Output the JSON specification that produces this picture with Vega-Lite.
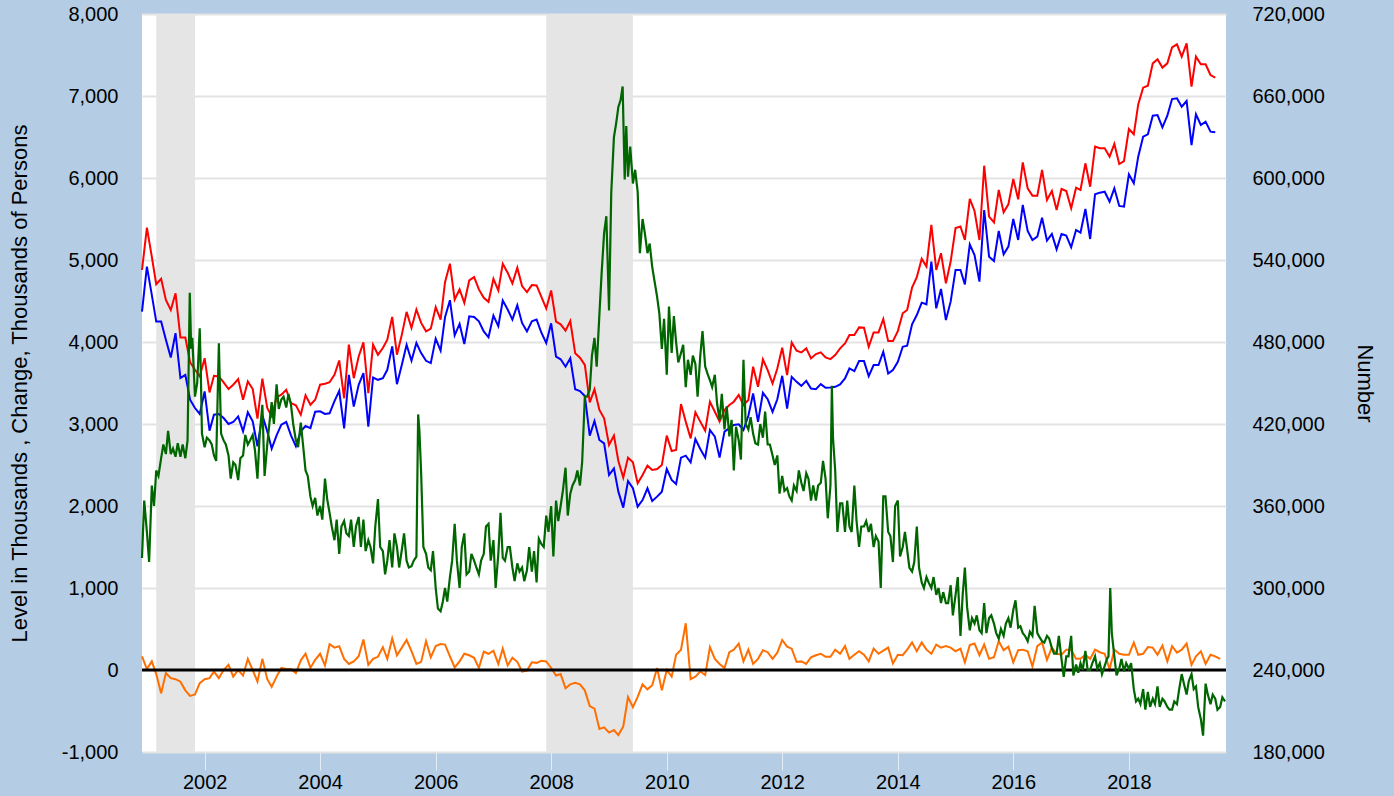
{
"$schema": "https://vega.github.io/schema/vega-lite/v6.json",
"width": 1084, "height": 738,
"autosize": {"type": "none"},
"padding": {"left": 142, "top": 14, "right": 168, "bottom": 44},
"background": "#b4cde4",
"config": {"view": {"fill": "#ffffff", "stroke": null}, "font": "Liberation Sans",
  "axis": {"labelFont": "Liberation Sans", "titleFont": "Liberation Sans", "labelColor": "#000000", "titleColor": "#000000", "titleFontWeight": "normal", "domain": false}},
"datasets": {
"m": [
{"d":"2000-12","r":4878,"b":4371,"o":167},
{"d":"2001-01","r":5394,"b":4919,"o":12},{"d":"2001-02","r":5040,"b":4574,"o":105},{"d":"2001-03","r":4704,"b":4249,"o":-50},{"d":"2001-04","r":4770,"b":4249,"o":-285},{"d":"2001-05","r":4513,"b":4026,"o":-37},{"d":"2001-06","r":4391,"b":3811,"o":-99},{"d":"2001-07","r":4594,"b":4107,"o":-112},{"d":"2001-08","r":4055,"b":3560,"o":-143},{"d":"2001-09","r":4055,"b":3600,"o":-248},{"d":"2001-10","r":3754,"b":3296,"o":-316},{"d":"2001-11","r":3661,"b":3195,"o":-298},{"d":"2001-12","r":3580,"b":3122,"o":-161},
{"d":"2002-01","r":3803,"b":3397,"o":-112},{"d":"2002-02","r":3385,"b":2919,"o":-99},{"d":"2002-03","r":3588,"b":3113,"o":-19},{"d":"2002-04","r":3580,"b":3122,"o":-99},{"d":"2002-05","r":3507,"b":3073,"o":0},{"d":"2002-06","r":3426,"b":3000,"o":62},{"d":"2002-07","r":3479,"b":3024,"o":-81},{"d":"2002-08","r":3548,"b":3093,"o":0},{"d":"2002-09","r":3296,"b":2910,"o":-68},{"d":"2002-10","r":3519,"b":3142,"o":136},{"d":"2002-11","r":3426,"b":3032,"o":0},{"d":"2002-12","r":3065,"b":2728,"o":-143},
{"d":"2003-01","r":3552,"b":3105,"o":136},{"d":"2003-02","r":3195,"b":2910,"o":-112},{"d":"2003-03","r":3093,"b":2700,"o":-205},{"d":"2003-04","r":3324,"b":2862,"o":-81},{"d":"2003-05","r":3357,"b":2992,"o":25},{"d":"2003-06","r":3418,"b":3024,"o":12},{"d":"2003-07","r":3255,"b":2862,"o":12},{"d":"2003-08","r":3227,"b":2728,"o":-37},{"d":"2003-09","r":3113,"b":2910,"o":118},{"d":"2003-10","r":3349,"b":2976,"o":198},{"d":"2003-11","r":3235,"b":2950,"o":25},{"d":"2003-12","r":3296,"b":3150,"o":124},
{"d":"2004-01","r":3479,"b":3154,"o":198},{"d":"2004-02","r":3491,"b":3122,"o":55},{"d":"2004-03","r":3510,"b":3130,"o":316},{"d":"2004-04","r":3600,"b":3280,"o":273},{"d":"2004-05","r":3775,"b":3404,"o":291},{"d":"2004-06","r":3314,"b":2947,"o":136},{"d":"2004-07","r":3967,"b":3600,"o":74},{"d":"2004-08","r":3559,"b":3212,"o":105},{"d":"2004-09","r":3824,"b":3477,"o":167},{"d":"2004-10","r":3996,"b":3620,"o":372},{"d":"2004-11","r":3375,"b":2967,"o":62},{"d":"2004-12","r":3967,"b":3567,"o":136},
{"d":"2005-01","r":3845,"b":3539,"o":161},{"d":"2005-02","r":3926,"b":3559,"o":279},{"d":"2005-03","r":4028,"b":3661,"o":136},{"d":"2005-04","r":4306,"b":3947,"o":384},{"d":"2005-05","r":3845,"b":3486,"o":180},{"d":"2005-06","r":4090,"b":3722,"o":273},{"d":"2005-07","r":4367,"b":3967,"o":366},{"d":"2005-08","r":4171,"b":3771,"o":229},{"d":"2005-09","r":4396,"b":3988,"o":74},{"d":"2005-10","r":4233,"b":3865,"o":99},{"d":"2005-11","r":4130,"b":3771,"o":353},{"d":"2005-12","r":4163,"b":3743,"o":155},
{"d":"2006-01","r":4424,"b":4041,"o":291},{"d":"2006-02","r":4273,"b":3894,"o":316},{"d":"2006-03","r":4730,"b":4302,"o":310},{"d":"2006-04","r":4955,"b":4510,"o":167},{"d":"2006-05","r":4518,"b":4082,"o":31},{"d":"2006-06","r":4641,"b":4220,"o":105},{"d":"2006-07","r":4477,"b":3975,"o":198},{"d":"2006-08","r":4751,"b":4314,"o":180},{"d":"2006-09","r":4792,"b":4306,"o":149},{"d":"2006-10","r":4641,"b":4253,"o":25},{"d":"2006-11","r":4539,"b":4130,"o":223},{"d":"2006-12","r":4490,"b":4057,"o":198},
{"d":"2007-01","r":4771,"b":4322,"o":236},{"d":"2007-02","r":4628,"b":4192,"o":74},{"d":"2007-03","r":4955,"b":4506,"o":260},{"d":"2007-04","r":4845,"b":4396,"o":56},{"d":"2007-05","r":4714,"b":4273,"o":149},{"d":"2007-06","r":4906,"b":4449,"o":100},{"d":"2007-07","r":4682,"b":4233,"o":-19},{"d":"2007-08","r":4608,"b":4130,"o":-6},{"d":"2007-09","r":4694,"b":4253,"o":93},{"d":"2007-10","r":4690,"b":4273,"o":87},{"d":"2007-11","r":4547,"b":4110,"o":112},{"d":"2007-12","r":4408,"b":3988,"o":105},
{"d":"2008-01","r":4628,"b":4228,"o":25},{"d":"2008-02","r":4248,"b":3821,"o":-68},{"d":"2008-03","r":4215,"b":3789,"o":-50},{"d":"2008-04","r":4138,"b":3699,"o":-223},{"d":"2008-05","r":4256,"b":3801,"o":-174},{"d":"2008-06","r":3862,"b":3423,"o":-155},{"d":"2008-07","r":3809,"b":3402,"o":-174},{"d":"2008-08","r":3720,"b":3341,"o":-248},{"d":"2008-09","r":3264,"b":2858,"o":-440},{"d":"2008-10","r":3423,"b":3037,"o":-471},{"d":"2008-11","r":3171,"b":2805,"o":-719},{"d":"2008-12","r":3069,"b":2764,"o":-700},
{"d":"2009-01","r":2744,"b":2378,"o":-763},{"d":"2009-02","r":2858,"b":2459,"o":-732},{"d":"2009-03","r":2549,"b":2175,"o":-794},{"d":"2009-04","r":2346,"b":1980,"o":-688},{"d":"2009-05","r":2590,"b":2305,"o":-329},{"d":"2009-06","r":2533,"b":2216,"o":-453},{"d":"2009-07","r":2276,"b":1992,"o":-329},{"d":"2009-08","r":2378,"b":2073,"o":-174},{"d":"2009-09","r":2492,"b":2216,"o":-236},{"d":"2009-10","r":2439,"b":2061,"o":-186},{"d":"2009-11","r":2451,"b":2114,"o":25},{"d":"2009-12","r":2500,"b":2175,"o":-248},
{"d":"2010-01","r":2858,"b":2451,"o":0},{"d":"2010-02","r":2671,"b":2317,"o":-81},{"d":"2010-03","r":2683,"b":2268,"o":186},{"d":"2010-04","r":3244,"b":2590,"o":248},{"d":"2010-05","r":3029,"b":2614,"o":570},{"d":"2010-06","r":2825,"b":2533,"o":-112},{"d":"2010-07","r":3142,"b":2817,"o":-81},{"d":"2010-08","r":3029,"b":2695,"o":-19},{"d":"2010-09","r":2919,"b":2590,"o":-62},{"d":"2010-10","r":3272,"b":2927,"o":279},{"d":"2010-11","r":3150,"b":2846,"o":136},{"d":"2010-12","r":3029,"b":2590,"o":74},
{"d":"2011-01","r":3171,"b":2907,"o":25},{"d":"2011-02","r":3232,"b":2950,"o":217},{"d":"2011-03","r":3272,"b":2988,"o":248},{"d":"2011-04","r":3354,"b":2996,"o":322},{"d":"2011-05","r":3232,"b":2927,"o":105},{"d":"2011-06","r":3293,"b":3100,"o":248},{"d":"2011-07","r":3698,"b":3372,"o":74},{"d":"2011-08","r":3453,"b":3025,"o":136},{"d":"2011-09","r":3787,"b":3380,"o":242},{"d":"2011-10","r":3657,"b":3302,"o":217},{"d":"2011-11","r":3494,"b":3148,"o":136},{"d":"2011-12","r":3677,"b":3302,"o":211},
{"d":"2012-01","r":3930,"b":3588,"o":366},{"d":"2012-02","r":3596,"b":3188,"o":285},{"d":"2012-03","r":3995,"b":3575,"o":260},{"d":"2012-04","r":3893,"b":3514,"o":99},{"d":"2012-05","r":3873,"b":3465,"o":105},{"d":"2012-06","r":3922,"b":3526,"o":74},{"d":"2012-07","r":3800,"b":3433,"o":155},{"d":"2012-08","r":3853,"b":3425,"o":180},{"d":"2012-09","r":3873,"b":3486,"o":198},{"d":"2012-10","r":3812,"b":3441,"o":161},{"d":"2012-11","r":3791,"b":3445,"o":161},{"d":"2012-12","r":3840,"b":3453,"o":248},
{"d":"2013-01","r":3922,"b":3482,"o":198},{"d":"2013-02","r":3983,"b":3555,"o":291},{"d":"2013-03","r":4085,"b":3677,"o":136},{"d":"2013-04","r":4085,"b":3645,"o":186},{"d":"2013-05","r":4178,"b":3767,"o":229},{"d":"2013-06","r":4174,"b":3767,"o":186},{"d":"2013-07","r":3942,"b":3584,"o":105},{"d":"2013-08","r":4117,"b":3718,"o":260},{"d":"2013-09","r":4117,"b":3718,"o":198},{"d":"2013-10","r":4280,"b":3881,"o":236},{"d":"2013-11","r":4011,"b":3616,"o":273},{"d":"2013-12","r":4011,"b":3657,"o":80},
{"d":"2014-01","r":4133,"b":3759,"o":186},{"d":"2014-02","r":4350,"b":3942,"o":180},{"d":"2014-03","r":4390,"b":3954,"o":248},{"d":"2014-04","r":4663,"b":4215,"o":335},{"d":"2014-05","r":4790,"b":4329,"o":229},{"d":"2014-06","r":5014,"b":4480,"o":335},{"d":"2014-07","r":4920,"b":4460,"o":248},{"d":"2014-08","r":5429,"b":4981,"o":198},{"d":"2014-09","r":4879,"b":4411,"o":310},{"d":"2014-10","r":5083,"b":4647,"o":273},{"d":"2014-11","r":4716,"b":4268,"o":291},{"d":"2014-12","r":4981,"b":4492,"o":273},
{"d":"2015-01","r":5389,"b":4879,"o":229},{"d":"2015-02","r":5409,"b":4879,"o":260},{"d":"2015-03","r":5244,"b":4703,"o":93},{"d":"2015-04","r":5744,"b":5191,"o":304},{"d":"2015-05","r":5598,"b":5061,"o":322},{"d":"2015-06","r":5244,"b":4736,"o":180},{"d":"2015-07","r":6150,"b":5610,"o":310},{"d":"2015-08","r":5528,"b":5041,"o":136},{"d":"2015-09","r":5459,"b":4988,"o":155},{"d":"2015-10","r":5854,"b":5354,"o":353},{"d":"2015-11","r":5581,"b":5069,"o":242},{"d":"2015-12","r":5679,"b":5163,"o":285},
{"d":"2016-01","r":5988,"b":5500,"o":93},{"d":"2016-02","r":5740,"b":5244,"o":242},{"d":"2016-03","r":6191,"b":5671,"o":248},{"d":"2016-04","r":5874,"b":5354,"o":229},{"d":"2016-05","r":5785,"b":5244,"o":43},{"d":"2016-06","r":5785,"b":5285,"o":291},{"d":"2016-07","r":6098,"b":5516,"o":335},{"d":"2016-08","r":5732,"b":5236,"o":124},{"d":"2016-09","r":5841,"b":5317,"o":273},{"d":"2016-10","r":5610,"b":5130,"o":198},{"d":"2016-11","r":5866,"b":5317,"o":186},{"d":"2016-12","r":5841,"b":5297,"o":248},
{"d":"2017-01","r":5630,"b":5155,"o":248},{"d":"2017-02","r":5882,"b":5366,"o":136},{"d":"2017-03","r":5854,"b":5333,"o":136},{"d":"2017-04","r":6179,"b":5622,"o":186},{"d":"2017-05","r":5894,"b":5256,"o":136},{"d":"2017-06","r":6382,"b":5801,"o":248},{"d":"2017-07","r":6362,"b":5821,"o":217},{"d":"2017-08","r":6362,"b":5833,"o":198},{"d":"2017-09","r":6260,"b":5711,"o":10},{"d":"2017-10","r":6415,"b":5874,"o":248},{"d":"2017-11","r":6171,"b":5659,"o":198},{"d":"2017-12","r":6207,"b":5650,"o":186},
{"d":"2018-01","r":6598,"b":6045,"o":186},{"d":"2018-02","r":6533,"b":5935,"o":335},{"d":"2018-03","r":6898,"b":6260,"o":186},{"d":"2018-04","r":7102,"b":6504,"o":198},{"d":"2018-05","r":7126,"b":6533,"o":279},{"d":"2018-06","r":7398,"b":6760,"o":273},{"d":"2018-07","r":7447,"b":6768,"o":186},{"d":"2018-08","r":7346,"b":6618,"o":298},{"d":"2018-09","r":7398,"b":6760,"o":105},{"d":"2018-10","r":7593,"b":6963,"o":291},{"d":"2018-11","r":7630,"b":6972,"o":211},{"d":"2018-12","r":7480,"b":6870,"o":248},
{"d":"2019-01","r":7642,"b":6939,"o":322},{"d":"2019-02","r":7114,"b":6402,"o":62},{"d":"2019-03","r":7480,"b":6776,"o":167},{"d":"2019-04","r":7386,"b":6646,"o":229},{"d":"2019-05","r":7386,"b":6687,"o":74},{"d":"2019-06","r":7256,"b":6565,"o":186},{"d":"2019-07","r":7224,"b":6557,"o":167},{"d":"2019-08","o":136}
],
"c": [
{"d":"2000-12-01","v":322000},{"d":"2000-12-15","v":364000},{"d":"2001-01-01","v":341000},{"d":"2001-01-15","v":319000},{"d":"2001-02-01","v":375000},{"d":"2001-02-15","v":360000},{"d":"2001-03-01","v":386000},{"d":"2001-03-15","v":382000},{"d":"2001-04-01","v":395000},{"d":"2001-04-15","v":405000},{"d":"2001-05-01","v":398000},{"d":"2001-05-15","v":415000},{"d":"2001-06-01","v":398000},{"d":"2001-06-15","v":402000},{"d":"2001-07-01","v":396000},{"d":"2001-07-15","v":406000},{"d":"2001-08-01","v":396000},{"d":"2001-08-15","v":405000},{"d":"2001-09-01","v":395000},{"d":"2001-09-15","v":408000},{"d":"2001-09-29","v":516000},{"d":"2001-10-08","v":475000},{"d":"2001-10-15","v":483000},{"d":"2001-11-01","v":440000},{"d":"2001-11-15","v":450000},{"d":"2001-12-01","v":490000},{"d":"2001-12-08","v":457000},{"d":"2001-12-15","v":413000},
{"d":"2002-01-01","v":403000},{"d":"2002-01-15","v":410000},{"d":"2002-02-01","v":408000},{"d":"2002-02-15","v":405000},{"d":"2002-03-01","v":397000},{"d":"2002-03-15","v":393000},{"d":"2002-04-01","v":479000},{"d":"2002-04-15","v":413000},{"d":"2002-05-01","v":408000},{"d":"2002-05-15","v":405000},{"d":"2002-06-01","v":397000},{"d":"2002-06-15","v":380000},{"d":"2002-07-01","v":392000},{"d":"2002-07-15","v":390000},{"d":"2002-08-01","v":379000},{"d":"2002-08-15","v":395000},{"d":"2002-09-01","v":397000},{"d":"2002-09-15","v":412000},{"d":"2002-10-01","v":405000},{"d":"2002-10-15","v":408000},{"d":"2002-11-01","v":412000},{"d":"2002-11-15","v":401000},{"d":"2002-12-01","v":380000},{"d":"2002-12-15","v":412000},
{"d":"2003-01-01","v":434000},{"d":"2003-01-15","v":382000},{"d":"2003-02-01","v":405000},{"d":"2003-02-15","v":421000},{"d":"2003-03-01","v":436000},{"d":"2003-03-15","v":420000},{"d":"2003-04-01","v":449000},{"d":"2003-04-15","v":431000},{"d":"2003-05-01","v":438000},{"d":"2003-05-15","v":440000},{"d":"2003-06-01","v":432000},{"d":"2003-06-15","v":442000},{"d":"2003-07-01","v":434000},{"d":"2003-07-15","v":420000},{"d":"2003-08-01","v":408000},{"d":"2003-08-15","v":403000},{"d":"2003-09-01","v":421000},{"d":"2003-09-15","v":405000},{"d":"2003-10-01","v":386000},{"d":"2003-10-15","v":382000},{"d":"2003-11-01","v":367000},{"d":"2003-11-15","v":360000},{"d":"2003-12-01","v":366000},{"d":"2003-12-15","v":353000},
{"d":"2004-01-01","v":360000},{"d":"2004-01-15","v":350000},{"d":"2004-02-01","v":380000},{"d":"2004-02-15","v":365000},{"d":"2004-03-01","v":355000},{"d":"2004-03-15","v":345000},{"d":"2004-04-01","v":335000},{"d":"2004-04-15","v":350000},{"d":"2004-05-01","v":325000},{"d":"2004-05-15","v":345000},{"d":"2004-06-01","v":349000},{"d":"2004-06-15","v":340000},{"d":"2004-07-01","v":338000},{"d":"2004-07-15","v":350000},{"d":"2004-08-01","v":330000},{"d":"2004-08-15","v":345000},{"d":"2004-09-01","v":352000},{"d":"2004-09-15","v":330000},{"d":"2004-10-01","v":350000},{"d":"2004-10-15","v":327000},{"d":"2004-11-01","v":335000},{"d":"2004-11-15","v":330000},{"d":"2004-12-01","v":318000},{"d":"2004-12-15","v":345000},
{"d":"2005-01-01","v":365000},{"d":"2005-01-15","v":330000},{"d":"2005-02-01","v":327000},{"d":"2005-02-15","v":310000},{"d":"2005-03-01","v":320000},{"d":"2005-03-15","v":335000},{"d":"2005-04-01","v":315000},{"d":"2005-04-15","v":340000},{"d":"2005-05-01","v":330000},{"d":"2005-05-15","v":315000},{"d":"2005-06-01","v":328000},{"d":"2005-06-15","v":340000},{"d":"2005-07-01","v":320000},{"d":"2005-07-15","v":315000},{"d":"2005-08-01","v":316000},{"d":"2005-08-15","v":320000},{"d":"2005-09-01","v":323000},{"d":"2005-09-12","v":427000},{"d":"2005-09-20","v":415000},{"d":"2005-10-01","v":384000},{"d":"2005-10-15","v":330000},{"d":"2005-11-01","v":325000},{"d":"2005-11-15","v":315000},{"d":"2005-12-01","v":313000},{"d":"2005-12-15","v":327000},
{"d":"2006-01-01","v":300000},{"d":"2006-01-15","v":285000},{"d":"2006-02-01","v":283000},{"d":"2006-02-15","v":290000},{"d":"2006-03-01","v":300000},{"d":"2006-03-15","v":290000},{"d":"2006-04-01","v":308000},{"d":"2006-04-15","v":320000},{"d":"2006-05-01","v":347000},{"d":"2006-05-15","v":320000},{"d":"2006-06-01","v":300000},{"d":"2006-06-15","v":330000},{"d":"2006-07-01","v":340000},{"d":"2006-07-15","v":310000},{"d":"2006-08-01","v":312000},{"d":"2006-08-15","v":325000},{"d":"2006-09-01","v":320000},{"d":"2006-09-15","v":315000},{"d":"2006-10-01","v":310000},{"d":"2006-10-15","v":320000},{"d":"2006-11-01","v":325000},{"d":"2006-11-15","v":345000},{"d":"2006-12-01","v":347000},{"d":"2006-12-15","v":320000},
{"d":"2007-01-01","v":335000},{"d":"2007-01-15","v":300000},{"d":"2007-02-01","v":325000},{"d":"2007-02-15","v":355000},{"d":"2007-03-01","v":322000},{"d":"2007-03-15","v":320000},{"d":"2007-04-01","v":330000},{"d":"2007-04-15","v":330000},{"d":"2007-05-01","v":315000},{"d":"2007-05-15","v":305000},{"d":"2007-06-01","v":318000},{"d":"2007-06-15","v":312000},{"d":"2007-07-01","v":315000},{"d":"2007-07-15","v":305000},{"d":"2007-08-01","v":313000},{"d":"2007-08-15","v":330000},{"d":"2007-09-01","v":312000},{"d":"2007-09-15","v":327000},{"d":"2007-10-01","v":304000},{"d":"2007-10-15","v":336000},{"d":"2007-11-01","v":332000},{"d":"2007-11-15","v":330000},{"d":"2007-12-01","v":353000},{"d":"2007-12-15","v":341000},
{"d":"2008-01-01","v":360000},{"d":"2008-01-15","v":323000},{"d":"2008-02-01","v":364000},{"d":"2008-02-15","v":349000},{"d":"2008-03-01","v":360000},{"d":"2008-03-15","v":371000},{"d":"2008-04-01","v":388000},{"d":"2008-04-15","v":353000},{"d":"2008-05-01","v":369000},{"d":"2008-05-15","v":375000},{"d":"2008-06-01","v":379000},{"d":"2008-06-15","v":386000},{"d":"2008-07-01","v":375000},{"d":"2008-07-15","v":392000},{"d":"2008-08-01","v":440000},{"d":"2008-08-15","v":440000},{"d":"2008-09-01","v":445000},{"d":"2008-09-15","v":470000},{"d":"2008-10-01","v":483000},{"d":"2008-10-15","v":462000},{"d":"2008-11-01","v":500000},{"d":"2008-11-15","v":530000},{"d":"2008-12-01","v":560000},{"d":"2008-12-15","v":572000},
{"d":"2009-01-01","v":503000},{"d":"2009-01-15","v":589000},{"d":"2009-02-01","v":630000},{"d":"2009-02-15","v":640000},{"d":"2009-03-01","v":652000},{"d":"2009-03-15","v":657000},{"d":"2009-03-28","v":667000},{"d":"2009-04-10","v":599000},{"d":"2009-04-20","v":638000},{"d":"2009-05-01","v":601000},{"d":"2009-05-15","v":623000},{"d":"2009-06-01","v":596000},{"d":"2009-06-15","v":606000},{"d":"2009-07-01","v":590000},{"d":"2009-07-15","v":545000},{"d":"2009-08-01","v":570000},{"d":"2009-08-15","v":560000},{"d":"2009-09-01","v":545000},{"d":"2009-09-15","v":552000},{"d":"2009-10-01","v":535000},{"d":"2009-10-15","v":525000},{"d":"2009-11-01","v":513000},{"d":"2009-11-15","v":501000},{"d":"2009-12-01","v":475000},{"d":"2009-12-15","v":497000},
{"d":"2010-01-01","v":456000},{"d":"2010-01-15","v":506000},{"d":"2010-02-01","v":472000},{"d":"2010-02-15","v":499000},{"d":"2010-03-01","v":480000},{"d":"2010-03-15","v":465000},{"d":"2010-04-01","v":472000},{"d":"2010-04-15","v":478000},{"d":"2010-05-01","v":447000},{"d":"2010-05-15","v":467000},{"d":"2010-06-01","v":456000},{"d":"2010-06-15","v":470000},{"d":"2010-07-01","v":464000},{"d":"2010-07-15","v":440000},{"d":"2010-08-01","v":470000},{"d":"2010-08-15","v":488000},{"d":"2010-09-01","v":462000},{"d":"2010-09-15","v":457000},{"d":"2010-10-01","v":452000},{"d":"2010-10-15","v":447000},{"d":"2010-11-01","v":456000},{"d":"2010-11-15","v":435000},{"d":"2010-12-01","v":423000},{"d":"2010-12-15","v":442000},
{"d":"2011-01-01","v":416000},{"d":"2011-01-15","v":433000},{"d":"2011-02-01","v":411000},{"d":"2011-02-15","v":423000},{"d":"2011-03-01","v":386000},{"d":"2011-03-15","v":418000},{"d":"2011-04-01","v":408000},{"d":"2011-04-15","v":394000},{"d":"2011-05-01","v":467000},{"d":"2011-05-15","v":420000},{"d":"2011-06-01","v":416000},{"d":"2011-06-15","v":425000},{"d":"2011-07-01","v":413000},{"d":"2011-07-15","v":406000},{"d":"2011-08-01","v":405000},{"d":"2011-08-15","v":420000},{"d":"2011-09-01","v":410000},{"d":"2011-09-15","v":429000},{"d":"2011-10-01","v":405000},{"d":"2011-10-15","v":405000},{"d":"2011-11-01","v":397000},{"d":"2011-11-15","v":390000},{"d":"2011-12-01","v":397000},{"d":"2011-12-15","v":369000},
{"d":"2012-01-01","v":382000},{"d":"2012-01-15","v":371000},{"d":"2012-02-01","v":373000},{"d":"2012-02-15","v":367000},{"d":"2012-03-01","v":364000},{"d":"2012-03-15","v":375000},{"d":"2012-04-01","v":371000},{"d":"2012-04-15","v":386000},{"d":"2012-05-01","v":377000},{"d":"2012-05-15","v":371000},{"d":"2012-06-01","v":384000},{"d":"2012-06-15","v":380000},{"d":"2012-07-01","v":364000},{"d":"2012-07-15","v":375000},{"d":"2012-08-01","v":364000},{"d":"2012-08-15","v":375000},{"d":"2012-09-01","v":377000},{"d":"2012-09-15","v":393000},{"d":"2012-10-01","v":380000},{"d":"2012-10-15","v":351000},{"d":"2012-11-01","v":375000},{"d":"2012-11-10","v":448000},{"d":"2012-11-17","v":410000},{"d":"2012-12-01","v":386000},{"d":"2012-12-15","v":341000},
{"d":"2013-01-01","v":362000},{"d":"2013-01-15","v":362000},{"d":"2013-02-01","v":341000},{"d":"2013-02-15","v":364000},{"d":"2013-03-01","v":345000},{"d":"2013-03-15","v":341000},{"d":"2013-04-01","v":375000},{"d":"2013-04-15","v":349000},{"d":"2013-05-01","v":330000},{"d":"2013-05-15","v":345000},{"d":"2013-06-01","v":345000},{"d":"2013-06-15","v":349000},{"d":"2013-07-01","v":341000},{"d":"2013-07-15","v":347000},{"d":"2013-08-01","v":330000},{"d":"2013-08-15","v":338000},{"d":"2013-09-01","v":334000},{"d":"2013-09-15","v":300000},{"d":"2013-10-01","v":367000},{"d":"2013-10-15","v":367000},{"d":"2013-11-01","v":341000},{"d":"2013-11-15","v":338000},{"d":"2013-12-01","v":319000},{"d":"2013-12-15","v":360000},
{"d":"2014-01-01","v":364000},{"d":"2014-01-15","v":323000},{"d":"2014-02-01","v":330000},{"d":"2014-02-15","v":341000},{"d":"2014-03-01","v":328000},{"d":"2014-03-15","v":315000},{"d":"2014-04-01","v":312000},{"d":"2014-04-15","v":319000},{"d":"2014-05-01","v":345000},{"d":"2014-05-15","v":315000},{"d":"2014-06-01","v":304000},{"d":"2014-06-15","v":300000},{"d":"2014-07-01","v":308000},{"d":"2014-07-15","v":304000},{"d":"2014-08-01","v":300000},{"d":"2014-08-15","v":308000},{"d":"2014-09-01","v":295000},{"d":"2014-09-15","v":300000},{"d":"2014-10-01","v":289000},{"d":"2014-10-15","v":297000},{"d":"2014-11-01","v":289000},{"d":"2014-11-15","v":289000},{"d":"2014-12-01","v":302000},{"d":"2014-12-15","v":280000},
{"d":"2015-01-01","v":295000},{"d":"2015-01-15","v":308000},{"d":"2015-02-01","v":265000},{"d":"2015-02-15","v":295000},{"d":"2015-03-01","v":315000},{"d":"2015-03-15","v":286000},{"d":"2015-04-01","v":269000},{"d":"2015-04-15","v":278000},{"d":"2015-05-01","v":274000},{"d":"2015-05-15","v":280000},{"d":"2015-06-01","v":269000},{"d":"2015-06-15","v":267000},{"d":"2015-07-01","v":289000},{"d":"2015-07-15","v":267000},{"d":"2015-08-01","v":278000},{"d":"2015-08-15","v":280000},{"d":"2015-09-01","v":274000},{"d":"2015-09-15","v":267000},{"d":"2015-10-01","v":263000},{"d":"2015-10-15","v":270000},{"d":"2015-11-01","v":265000},{"d":"2015-11-15","v":274000},{"d":"2015-12-01","v":278000},{"d":"2015-12-15","v":271000},
{"d":"2016-01-01","v":284000},{"d":"2016-01-15","v":291000},{"d":"2016-02-01","v":271000},{"d":"2016-02-15","v":272000},{"d":"2016-03-01","v":267000},{"d":"2016-03-15","v":265000},{"d":"2016-04-01","v":261000},{"d":"2016-04-15","v":268000},{"d":"2016-05-01","v":265000},{"d":"2016-05-15","v":287000},{"d":"2016-06-01","v":267000},{"d":"2016-06-15","v":264000},{"d":"2016-07-01","v":261000},{"d":"2016-07-15","v":260000},{"d":"2016-08-01","v":265000},{"d":"2016-08-15","v":263000},{"d":"2016-09-01","v":256000},{"d":"2016-09-15","v":252000},{"d":"2016-10-01","v":252000},{"d":"2016-10-15","v":265000},{"d":"2016-11-01","v":248000},{"d":"2016-11-15","v":235000},{"d":"2016-12-01","v":250000},{"d":"2016-12-15","v":250000},
{"d":"2017-01-01","v":265000},{"d":"2017-01-15","v":236000},{"d":"2017-02-01","v":244000},{"d":"2017-02-15","v":238000},{"d":"2017-03-01","v":245000},{"d":"2017-03-15","v":240000},{"d":"2017-04-01","v":254000},{"d":"2017-04-15","v":240000},{"d":"2017-05-01","v":240000},{"d":"2017-05-15","v":245000},{"d":"2017-06-01","v":250000},{"d":"2017-06-15","v":241000},{"d":"2017-07-01","v":245000},{"d":"2017-07-15","v":237000},{"d":"2017-08-01","v":243000},{"d":"2017-08-15","v":248000},{"d":"2017-08-25","v":250000},{"d":"2017-09-05","v":300000},{"d":"2017-09-15","v":267000},{"d":"2017-10-01","v":250000},{"d":"2017-10-15","v":236000},{"d":"2017-11-01","v":241000},{"d":"2017-11-15","v":248000},{"d":"2017-12-01","v":239000},{"d":"2017-12-15","v":245000},
{"d":"2018-01-01","v":241000},{"d":"2018-01-15","v":245000},{"d":"2018-02-01","v":226000},{"d":"2018-02-15","v":217000},{"d":"2018-03-01","v":219000},{"d":"2018-03-15","v":215000},{"d":"2018-04-01","v":226000},{"d":"2018-04-15","v":211000},{"d":"2018-05-01","v":224000},{"d":"2018-05-15","v":213000},{"d":"2018-06-01","v":219000},{"d":"2018-06-15","v":215000},{"d":"2018-07-01","v":228000},{"d":"2018-07-15","v":213000},{"d":"2018-08-01","v":219000},{"d":"2018-08-15","v":217000},{"d":"2018-09-01","v":213000},{"d":"2018-09-15","v":211000},{"d":"2018-10-01","v":211000},{"d":"2018-10-15","v":217000},{"d":"2018-11-01","v":215000},{"d":"2018-11-15","v":226000},{"d":"2018-12-01","v":237000},{"d":"2018-12-15","v":230000},
{"d":"2019-01-01","v":222000},{"d":"2019-01-15","v":232000},{"d":"2019-02-01","v":237000},{"d":"2019-02-15","v":226000},{"d":"2019-03-01","v":228000},{"d":"2019-03-15","v":213000},{"d":"2019-04-01","v":204000},{"d":"2019-04-15","v":192000},{"d":"2019-05-01","v":230000},{"d":"2019-05-15","v":222000},{"d":"2019-06-01","v":215000},{"d":"2019-06-15","v":222000},{"d":"2019-07-01","v":219000},{"d":"2019-07-15","v":211000},{"d":"2019-08-01","v":213000},{"d":"2019-08-15","v":220000},{"d":"2019-09-01","v":217000}
]
},
"layer": [
 {"layer": [
  {"data": {"values": [{"s":"2001-03-01","e":"2001-11-01"},{"s":"2007-12-01","e":"2009-06-01"}]},
   "mark": {"type": "rect", "color": "#e5e5e5"},
   "encoding": {
    "x": {"field": "s", "type": "temporal", "title": null,
      "scale": {"domain": [{"year":2000,"month":12,"date":1},{"year":2019,"month":9,"date":7}]},
      "axis": {"values": [{"year":2002,"month":1,"date":1},{"year":2004,"month":1,"date":1},{"year":2006,"month":1,"date":1},{"year":2008,"month":1,"date":1},{"year":2010,"month":1,"date":1},{"year":2012,"month":1,"date":1},{"year":2014,"month":1,"date":1},{"year":2016,"month":1,"date":1},{"year":2018,"month":1,"date":1}],
        "format": "%Y", "labelFontSize": 20, "labelAngle": 0, "tickColor": "#e4ecf4", "tickSize": 18, "tickWidth": 1, "labelPadding": 2, "grid": false}},
    "x2": {"field": "e"}}},
  {"data": {"name": "m"},
   "transform": [{"fold": ["r","b","o"], "as": ["k","v"]}],
   "mark": {"type": "line", "strokeWidth": 2},
   "encoding": {
    "x": {"field": "d", "type": "temporal", "title": null},
    "y": {"field": "v", "type": "quantitative", "title": "Level in Thousands , Change, Thousands of Persons",
      "scale": {"domain": [-1000, 8000], "nice": false, "zero": false},
      "axis": {"title": "Level in Thousands , Change, Thousands of Persons", "values": [-1000,0,1000,2000,3000,4000,5000,6000,7000,8000],
        "labelExpr": "replace(format(datum.value, ',.0f'), '\u2212', '-')",
        "labelFontSize": 20, "ticks": false, "tickSize": 0, "labelPadding": 24, "grid": true, "gridColor": "#e3e3e3", "gridWidth": 2,
        "titleFontSize": 22, "titlePadding": 30}},
    "color": {"field": "k", "type": "nominal", "scale": {"domain": ["r","b","o"], "range": ["#ff0000","#0000ff","#ff6e00"]}, "legend": null}}},
  {"data": {"values": [{"z": 0}]},
   "mark": {"type": "rule", "color": "#000000", "strokeWidth": 3},
   "encoding": {"y": {"field": "z", "type": "quantitative", "title": "Level in Thousands , Change, Thousands of Persons"}}}
 ]},
 {"data": {"name": "c"},
  "mark": {"type": "line", "color": "#006600", "strokeWidth": 2.2},
  "encoding": {
   "x": {"field": "d", "type": "temporal", "title": null},
   "y": {"field": "v", "type": "quantitative",
     "scale": {"domain": [180000, 720000], "nice": false, "zero": false},
     "axis": {"orient": "right", "title": "Number", "values": [180000,240000,300000,360000,420000,480000,540000,600000,660000,720000],
       "labelExpr": "format(datum.value, ',.0f')",
       "labelFontSize": 20, "ticks": false, "tickSize": 0, "labelPadding": 26, "grid": false, "titleFontSize": 22, "titlePadding": 28}}}}
],
"resolve": {"scale": {"y": "independent"}}
}
